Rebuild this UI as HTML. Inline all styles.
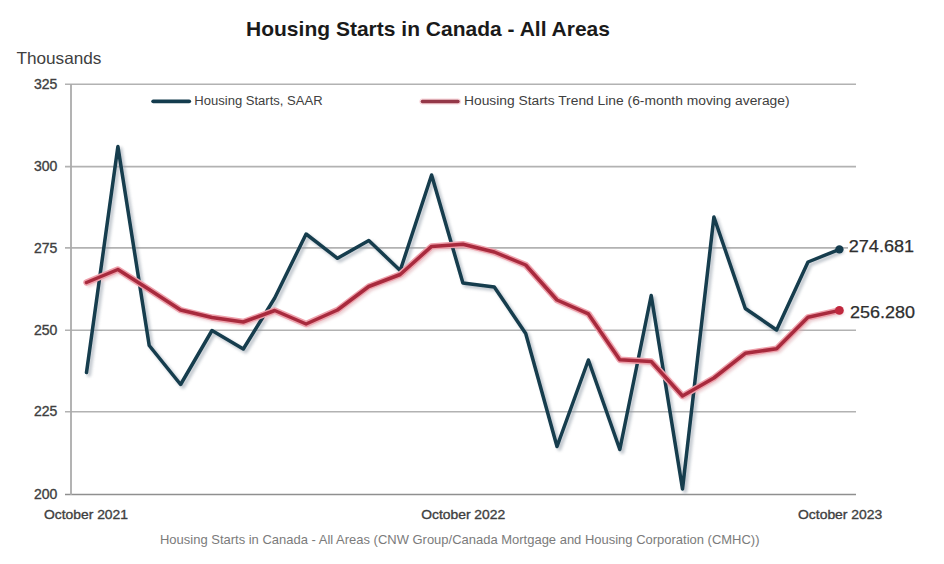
<!DOCTYPE html>
<html><head><meta charset="utf-8"><style>
html,body{margin:0;padding:0;background:#fff;}
body{width:944px;height:564px;overflow:hidden;position:relative;font-family:"Liberation Sans",sans-serif;}
svg{position:absolute;left:0;top:0;}
</style></head><body>
<svg width="944" height="564" viewBox="0 0 944 564">
<defs>
<filter id="sh" x="-10%" y="-10%" width="120%" height="120%"><feGaussianBlur stdDeviation="1.4"/></filter>
<filter id="sb" x="-10%" y="-10%" width="120%" height="120%"><feGaussianBlur stdDeviation="0.45"/></filter>
</defs>
<text x="246" y="36.4" font-family="Liberation Sans" font-weight="bold" font-size="20.4" fill="#1a1a1a" textLength="364" lengthAdjust="spacingAndGlyphs">Housing Starts in Canada - All Areas</text>
<text x="16.4" y="63.6" font-family="Liberation Sans" font-size="16.5" fill="#404040" textLength="85" lengthAdjust="spacingAndGlyphs">Thousands</text>
<line x1="65" y1="84.3" x2="856" y2="84.3" stroke="#b2b2b2" stroke-width="1.6"/><line x1="65" y1="166.6" x2="856" y2="166.6" stroke="#b2b2b2" stroke-width="1.6"/><line x1="65" y1="247.9" x2="856" y2="247.9" stroke="#b2b2b2" stroke-width="1.6"/><line x1="65" y1="330.3" x2="856" y2="330.3" stroke="#b2b2b2" stroke-width="1.6"/><line x1="65" y1="411.8" x2="856" y2="411.8" stroke="#b2b2b2" stroke-width="1.6"/>
<line x1="65" y1="494.4" x2="856" y2="494.4" stroke="#8f8f8f" stroke-width="1.5"/>
<line x1="71" y1="84" x2="71" y2="495" stroke="#ababab" stroke-width="1.8"/>
<g font-family="Liberation Sans" font-size="13" fill="#404040" stroke="#404040" stroke-width="0.35">
<text x="33.9" y="88.89999999999999" font-size="13.8" textLength="23.4" lengthAdjust="spacingAndGlyphs">325</text><text x="33.9" y="171.2" font-size="13.8" textLength="23.4" lengthAdjust="spacingAndGlyphs">300</text><text x="33.9" y="252.5" font-size="13.8" textLength="23.4" lengthAdjust="spacingAndGlyphs">275</text><text x="33.9" y="334.90000000000003" font-size="13.8" textLength="23.4" lengthAdjust="spacingAndGlyphs">250</text><text x="33.9" y="416.40000000000003" font-size="13.8" textLength="23.4" lengthAdjust="spacingAndGlyphs">225</text><text x="33.9" y="499.0" font-size="13.8" textLength="23.4" lengthAdjust="spacingAndGlyphs">200</text>
<text x="44" y="519.3" textLength="84" lengthAdjust="spacingAndGlyphs">October 2021</text>
<text x="421.2" y="519.3" textLength="84" lengthAdjust="spacingAndGlyphs">October 2022</text>
<text x="798" y="519.3" textLength="84.3" lengthAdjust="spacingAndGlyphs">October 2023</text>
</g>
<g font-family="Liberation Sans" font-size="12.3" fill="#404040">
<line x1="153.2" y1="101.3" x2="189.2" y2="101.3" stroke="#143c4e" stroke-width="3.8" stroke-linecap="round"/>
<text x="194.3" y="104.8" textLength="128.3" lengthAdjust="spacingAndGlyphs">Housing Starts, SAAR</text>
<line x1="422.4" y1="101.5" x2="458" y2="101.5" stroke="#f3b8c0" stroke-width="6" stroke-linecap="round" opacity="0.6"/><line x1="422.4" y1="101.5" x2="458" y2="101.5" stroke="#943848" stroke-width="3.4" stroke-linecap="round"/>
<text x="464" y="104.8" textLength="325.6" lengthAdjust="spacingAndGlyphs">Housing Starts Trend Line (6-month moving average)</text>
</g>
<g transform="translate(2.5,2.5)" filter="url(#sh)" opacity="0.55">
<polyline points="86.5,372.5 117.9,146.5 149.2,345.5 180.6,384.5 212.0,330.5 243.3,349.0 274.7,298.0 306.1,234.0 337.5,258.3 368.8,240.5 400.2,270.5 431.6,175.0 462.9,283.0 494.3,287.0 525.7,333.5 557.0,446.5 588.4,360.0 619.8,449.5 651.2,295.5 682.5,489.0 713.9,217.0 745.3,308.5 776.6,330.0 808.0,262.0 839.4,249.4" fill="none" stroke="#8f9aa6" stroke-width="4" stroke-linejoin="round" stroke-linecap="round"/>
<polyline points="86.5,282.5 117.9,269.5 149.2,289.5 180.6,310.0 212.0,317.5 243.3,322.0 274.7,310.5 306.1,324.0 337.5,310.0 368.8,286.5 400.2,274.5 431.6,246.4 462.9,244.2 494.3,252.0 525.7,265.0 557.0,300.0 588.4,313.9 619.8,359.8 651.2,361.5 682.5,396.0 713.9,378.0 745.3,353.3 776.6,348.7 808.0,317.3 839.4,310.4" fill="none" stroke="#d9a0a8" stroke-width="4" stroke-linejoin="round" stroke-linecap="round"/>
</g>
<g filter="url(#sb)">
<polyline points="86.5,372.5 117.9,146.5 149.2,345.5 180.6,384.5 212.0,330.5 243.3,349.0 274.7,298.0 306.1,234.0 337.5,258.3 368.8,240.5 400.2,270.5 431.6,175.0 462.9,283.0 494.3,287.0 525.7,333.5 557.0,446.5 588.4,360.0 619.8,449.5 651.2,295.5 682.5,489.0 713.9,217.0 745.3,308.5 776.6,330.0 808.0,262.0 839.4,249.4" fill="none" stroke="#143c4e" stroke-width="3.5" stroke-linejoin="round" stroke-linecap="round"/>
<polyline points="86.5,282.5 117.9,269.5 149.2,289.5 180.6,310.0 212.0,317.5 243.3,322.0 274.7,310.5 306.1,324.0 337.5,310.0 368.8,286.5 400.2,274.5 431.6,246.4 462.9,244.2 494.3,252.0 525.7,265.0 557.0,300.0 588.4,313.9 619.8,359.8 651.2,361.5 682.5,396.0 713.9,378.0 745.3,353.3 776.6,348.7 808.0,317.3 839.4,310.4" fill="none" stroke="#eea0ab" stroke-width="6.4" stroke-linejoin="round" stroke-linecap="round"/>
<polyline points="86.5,282.5 117.9,269.5 149.2,289.5 180.6,310.0 212.0,317.5 243.3,322.0 274.7,310.5 306.1,324.0 337.5,310.0 368.8,286.5 400.2,274.5 431.6,246.4 462.9,244.2 494.3,252.0 525.7,265.0 557.0,300.0 588.4,313.9 619.8,359.8 651.2,361.5 682.5,396.0 713.9,378.0 745.3,353.3 776.6,348.7 808.0,317.3 839.4,310.4" fill="none" stroke="#a82a3d" stroke-width="3.5" stroke-linejoin="round" stroke-linecap="round"/>
</g>
<circle cx="839.4" cy="249.4" r="4.2" fill="#143c4e"/>
<circle cx="839.4" cy="310.4" r="4.4" fill="#c0283e"/>
<g font-family="Liberation Sans" font-size="16.6" fill="#2e2e2e" stroke="#2e2e2e" stroke-width="0.25">
<rect x="848" y="238" width="70" height="17" fill="#fff" stroke="none"/>
<text x="848.8" y="251.9" textLength="65.2" lengthAdjust="spacingAndGlyphs">274.681</text>
<text x="850" y="318" textLength="65" lengthAdjust="spacingAndGlyphs">256.280</text>
</g>
<text x="160" y="543.8" font-family="Liberation Sans" font-size="13" fill="#7b7b7b" textLength="599.5" lengthAdjust="spacingAndGlyphs">Housing Starts in Canada - All Areas (CNW Group/Canada Mortgage and Housing Corporation (CMHC))</text>
</svg>
</body></html>
